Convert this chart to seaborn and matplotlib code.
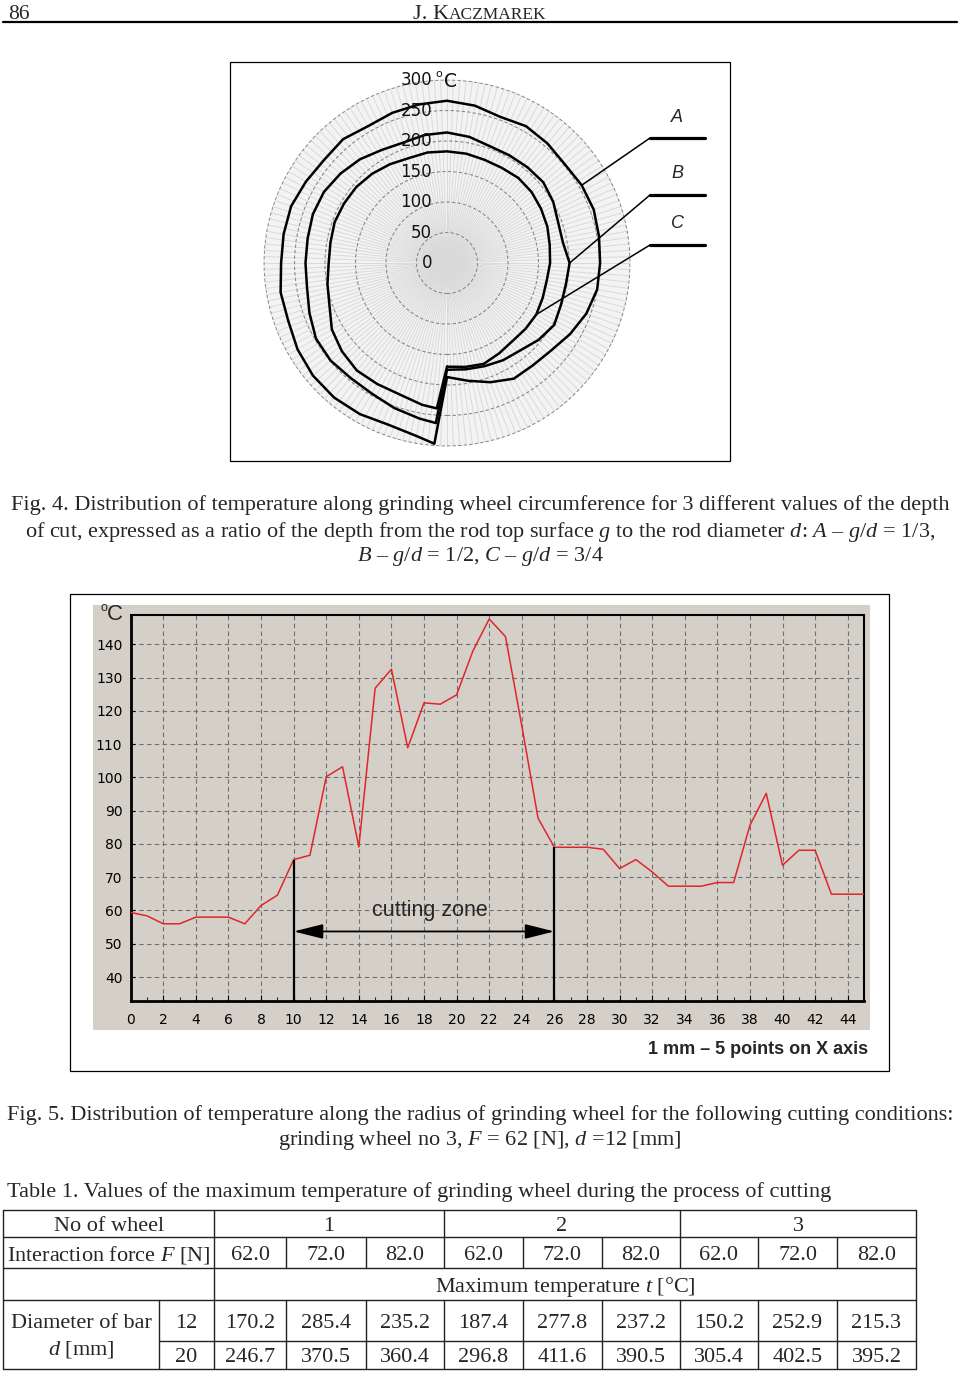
import numpy as np
import pandas as pd
import matplotlib
matplotlib.use("Agg")
import matplotlib.pyplot as plt
import matplotlib.transforms as mtrans
from matplotlib.patches import Rectangle
from matplotlib.lines import Line2D
import seaborn as sns

# ---------------- data ----------------
# Fig. 4 - temperature along the wheel circumference (degrees from the bottom, counter-clockwise)
circ_angle_deg = [0, 10, 20, 30, 40, 50, 60, 70, 80, 90, 100, 110, 120, 130, 140, 150, 160, 170,
                  180, 190, 200, 210, 220, 230, 240, 250, 260, 270, 280, 290, 300, 310, 320, 330,
                  340, 350, 356]
temp_A = [187, 196, 208, 219, 219, 223, 233, 243, 250, 251, 253, 256, 255, 252, 256, 259, 255, 262,
          266, 264, 262, 259, 265, 263, 267, 272, 272, 272, 277, 277, 283, 287, 288, 286, 282, 288, 297]
temp_B = [175, 177, 180, 184, 187, 196, 203, 199, 198, 201, 193, 194, 201, 206, 205, 204, 204, 210,
          214, 213, 210, 214, 222, 228, 233, 234, 232, 232, 233, 240, 248, 249, 246, 247, 253, 259, 263]
temp_C = [170, 173, 176, 171, 167, 168, 169, 167, 166, 169, 171, 175, 178, 181, 182, 180, 180, 182,
          183, 184, 183, 187, 191, 194, 195, 196, 194, 194, 199, 205, 218, 225, 230, 229, 229, 236, 239]
curve_names = ["A", "B", "C"]
polar_r_labels = [0, 50, 100, 150, 200, 250, 300]

# Fig. 5 - temperature along the radius
radius_pos = list(range(46))
radius_temp = [59.4, 58.4, 56.0, 56.0, 58.0, 58.0, 58.0, 56.0, 61.5, 64.6, 75.3, 76.6, 100.2, 103.2,
               79.1, 126.8, 132.5, 108.9, 122.4, 122.0, 124.8, 138.0, 147.6, 142.3, 115.5, 87.7,
               79.0, 79.0, 79.0, 78.4, 72.6, 75.3, 71.6, 67.3, 67.3, 67.3, 68.4, 68.4, 85.6, 95.2,
               73.6, 78.1, 78.1, 64.9, 64.9, 64.9]
cutting_zone = [10, 26]
x_ticks = list(range(0, 45, 2))
y_ticks = list(range(40, 141, 10))

# Table 1
wheel_no = ["1", "2", "3"]
force_N = ["62.0", "72.0", "82.0"]
bar_diam = ["12", "20"]
tmax_12 = ["170.2", "285.4", "235.2", "187.4", "277.8", "237.2", "150.2", "252.9", "215.3"]
tmax_20 = ["246.7", "370.5", "360.4", "296.8", "411.6", "390.5", "305.4", "402.5", "395.2"]

# ---------------- style ----------------
sns.set_theme(style="white")
plt.rcParams['font.family'] = ['Liberation Serif', 'DejaVu Sans']
plt.rcParams['mathtext.fontset'] = 'custom'
plt.rcParams['mathtext.rm'] = 'Liberation Serif'
plt.rcParams['mathtext.it'] = 'Liberation Serif:italic'
plt.rcParams['mathtext.bf'] = 'Liberation Serif:bold'

W, H = 960, 1373
fig = plt.figure(figsize=(W / 100, H / 100), dpi=100)
fig.patch.set_facecolor('white')


def fx(x):
    return x / W


def fy(y):
    return 1 - y / H


def ftext(x, y, s, **kw):
    return fig.text(fx(x), fy(y), s, **kw)


def fline(xs, ys, **kw):
    kw.setdefault('color', 'black')
    fig.add_artist(Line2D([fx(v) for v in xs], [fy(v) for v in ys],
                          transform=fig.transFigure, **kw))


def frect(x0, y0, x1, y1, **kw):
    fig.add_artist(Rectangle((fx(x0), fy(y1)), (x1 - x0) / W, (y1 - y0) / H,
                             transform=fig.transFigure, **kw))


SERIF = 'Liberation Serif'
CAP = 16

# ---------------- header ----------------
ftext(8, 19, "86", family=SERIF, fontsize=15.5, va='baseline', ha='left')
ftext(449, 19, "J. K", family=SERIF, fontsize=16, va='baseline', ha='right')
ftext(449, 19, "ACZMAREK", family=SERIF, fontsize=12.5, va='baseline', ha='left')
fline([3, 957], [22, 22], lw=1.6)

# ---------------- Fig. 4 (polar) ----------------
frect(230, 62, 730, 461, fill=False, ec='black', lw=0.9)
cx, cy, R = 447, 263, 183.6
axp = fig.add_axes([fx(cx - R), fy(cy + R), 2 * R / W, 2 * R / H], projection='polar')
axp.set_theta_zero_location('S')
axp.set_theta_direction(1)
axp.set_facecolor('#f3f3f3')
for name, vals in zip(curve_names, [temp_A, temp_B, temp_C]):
    th = np.deg2rad(circ_angle_deg + [360])
    rr = vals + [vals[0]]
    sns.lineplot(x=th, y=rr, ax=axp, sort=False, estimator=None, color='black', lw=1.8)
axp.set_ylim(0, 301)
axp.set_xticks(np.deg2rad(np.arange(0, 360, 2)))
axp.set_xticklabels([])
axp.set_yticks(polar_r_labels[1:])
axp.set_yticklabels([])
axp.xaxis.grid(True, color='#dadada', lw=0.7, ls='-')
axp.yaxis.grid(True, color='#8a8a8a', lw=0.8, ls=(0, (3, 2)))
axp.spines['polar'].set_visible(False)
axp.tick_params(length=0)
axp.set_xlabel('')
axp.set_ylabel('')
lab_off = mtrans.ScaledTranslation(-15 / 100, 0, fig.dpi_scale_trans)
for r in polar_r_labels:
    axp.text(np.pi, r, str(r), transform=axp.transData + lab_off, ha='right', va='center',
             fontsize=12, family='DejaVu Sans', color='#111111', zorder=5)
deg_off_o = mtrans.ScaledTranslation(-12 / 100, 6 / 100, fig.dpi_scale_trans)
deg_off_c = mtrans.ScaledTranslation(-3 / 100, -1 / 100, fig.dpi_scale_trans)
axp.text(np.pi, 300, "o", transform=axp.transData + deg_off_o, ha='left', va='center',
         fontsize=8, family='DejaVu Sans', color='#111111', zorder=5)
axp.text(np.pi, 300, "C", transform=axp.transData + deg_off_c, ha='left', va='center',
         fontsize=13.5, family='DejaVu Sans', color='#111111', zorder=5)

# leader lines A, B, C
leader_idx = [12, 9, 6]
leader_y = [138, 195, 245]
label_y = [117, 173, 223]
for name, vals, idx, ly, ty in zip(curve_names, [temp_A, temp_B, temp_C], leader_idx, leader_y, label_y):
    axp.annotate('', xy=(np.deg2rad(circ_angle_deg[idx]), vals[idx]), xycoords='data',
                 xytext=(fx(650), fy(ly)), textcoords='figure fraction',
                 arrowprops=dict(arrowstyle='-', lw=1.1, color='black', shrinkA=0, shrinkB=0))
    fline([650, 705], [ly, ly], lw=2.3)
    ftext(677, ty, name, family='Liberation Sans', style='italic', fontsize=13,
          ha='center', va='center')

# caption Fig. 4
cap4 = ["Fig. 4. Distribution of temperature along grinding wheel circumference for 3 different values of the depth",
        "of cut, expressed as a ratio of the depth from the rod top surface $g$ to the rod diameter $d$: $A$ \u2013 $g/d$ = 1/3,",
        "$B$ \u2013 $g/d$ = 1/2, $C$ \u2013 $g/d$ = 3/4"]
for s, yb in zip(cap4, [510, 536.5, 561]):
    ftext(480, yb, s, family=SERIF, fontsize=CAP, ha='center', va='baseline')

# ---------------- Fig. 5 (line chart) ----------------
frect(70, 594, 889, 1071, fill=False, ec='black', lw=0.9)
frect(93, 605, 870, 1030, fill=True, fc='#d4d0c8', ec='none', zorder=-5)
ax2 = fig.add_axes([fx(130.7), fy(1001), (864 - 130.7) / W, (1001 - 615) / H])
ax2.set_facecolor('#d4d0c8')
df5 = pd.DataFrame({'pos': radius_pos, 'temp': radius_temp})
sns.lineplot(data=df5, x='pos', y='temp', ax=ax2, color='#e0262b', lw=1.1, zorder=4)
ax2.set_xlim(0, 45)
ax2.set_ylim(32.8, 148.8)
ax2.set_xticks(x_ticks)
ax2.set_xticks(range(0, 46), minor=True)
ax2.set_yticks(y_ticks)
ax2.set_xticklabels([str(v) for v in x_ticks])
ax2.set_yticklabels([str(v) for v in y_ticks])
ax2.grid(True, which='major', ls=(0, (4, 3)), color='#707070', lw=0.8)
ax2.tick_params(axis='x', which='major', direction='in', length=4, width=0.8, pad=9,
                labelsize=10, colors='black', bottom=True)
ax2.tick_params(axis='x', which='minor', direction='in', length=3, width=0.8, bottom=True)
ax2.tick_params(axis='y', which='major', direction='in', length=3, width=0.8, pad=6,
                labelsize=10, colors='black', left=True)
for lab in ax2.get_xticklabels() + ax2.get_yticklabels():
    lab.set_family('DejaVu Sans')
for side, lw in [('left', 2.0), ('bottom', 2.0), ('top', 1.5), ('right', 1.5)]:
    ax2.spines[side].set_visible(True)
    ax2.spines[side].set_color('black')
    ax2.spines[side].set_linewidth(lw)
ax2.set_xlabel('')
ax2.set_ylabel('')
ylo = ax2.get_ylim()[0]
zone_tops = [radius_temp[radius_pos.index(z)] for z in cutting_zone]
ax2.vlines(cutting_zone, ylo, zone_tops, color='black', lw=1.6, zorder=5)
ax2.annotate('', xy=(cutting_zone[0], 53.7), xytext=(cutting_zone[1], 53.7),
             arrowprops=dict(arrowstyle='<|-|>,head_length=1.2,head_width=0.3', mutation_scale=15,
                             color='black', lw=1.3, shrinkA=0, shrinkB=0), zorder=5)
ax2.text(np.mean(cutting_zone) + 0.35, 60, "cutting zone", family='Liberation Sans', fontsize=15.5,
         ha='center', va='center', zorder=5)
ftext(104, 608, "o", family='Liberation Sans', fontsize=9, ha='center', va='center')
ftext(115, 615, "C", family='Liberation Sans', fontsize=16, ha='center', va='center')
ftext(868, 1049, "1 mm \u2013 5 points on X axis", family='Liberation Sans', fontsize=13,
      weight='bold', ha='right', va='center')

cap5 = ["Fig. 5. Distribution of temperature along the radius of grinding wheel for the following cutting conditions:",
        "grinding wheel no 3, $F$ = 62 [N], $d$ =12 [mm]"]
for s, yb in zip(cap5, [1120, 1145]):
    ftext(480, yb, s, family=SERIF, fontsize=CAP, ha='center', va='baseline')

# ---------------- Table 1 ----------------
ftext(7, 1197, "Table 1. Values of the maximum temperature of grinding wheel during the process of cutting",
      family=SERIF, fontsize=CAP, ha='left', va='baseline')
col_x = [3, 214, 286, 366, 444, 523, 602, 680, 758, 837, 916]
row_y = [1210, 1237, 1268, 1300, 1341, 1369]
TL = dict(lw=1.0, color='#222222')
for i, y in enumerate(row_y):
    if i == 4:
        fline([159, 916], [y, y], **TL)
    else:
        fline([3, 916], [y, y], **TL)
fline([3, 3], [1210, 1369], **TL)
fline([214, 214], [1210, 1369], **TL)
fline([916, 916], [1210, 1369], **TL)
fline([159, 159], [1300, 1369], **TL)
for k, x in enumerate(col_x[2:-1]):
    if x in (444, 680):
        fline([x, x], [1210, 1268], **TL)
    else:
        fline([x, x], [1237, 1268], **TL)
    fline([x, x], [1300, 1369], **TL)

TF = dict(family=SERIF, fontsize=CAP, va='baseline', ha='center')
ftext(109, 1230.7, "No of wheel", **TF)
for j, w in enumerate(wheel_no):
    x0, x1 = col_x[1 + 3 * j], col_x[4 + 3 * j]
    ftext((x0 + x1) / 2, 1230.7, w, **TF)
ftext(7, 1260, "Interaction force $F$ [N]", family=SERIF, fontsize=CAP, va='baseline', ha='left')
for j in range(9):
    xc = (col_x[1 + j] + col_x[2 + j]) / 2
    ftext(xc, 1260, force_N[j % 3], **TF)
ftext(565, 1291.7, "Maximum temperature $t$ [\u00b0C]", **TF)
ftext(81, 1328.3, "Diameter of bar", **TF)
ftext(81, 1355, "$d$ [mm]", **TF)
ftext(186.5, 1328.3, bar_diam[0], **TF)
ftext(186.5, 1361.7, bar_diam[1], **TF)
for j in range(9):
    xc = (col_x[1 + j] + col_x[2 + j]) / 2
    ftext(xc, 1328.3, tmax_12[j], **TF)
    ftext(xc, 1361.7, tmax_20[j], **TF)

fig.savefig("out.png", dpi=100, facecolor='white')
